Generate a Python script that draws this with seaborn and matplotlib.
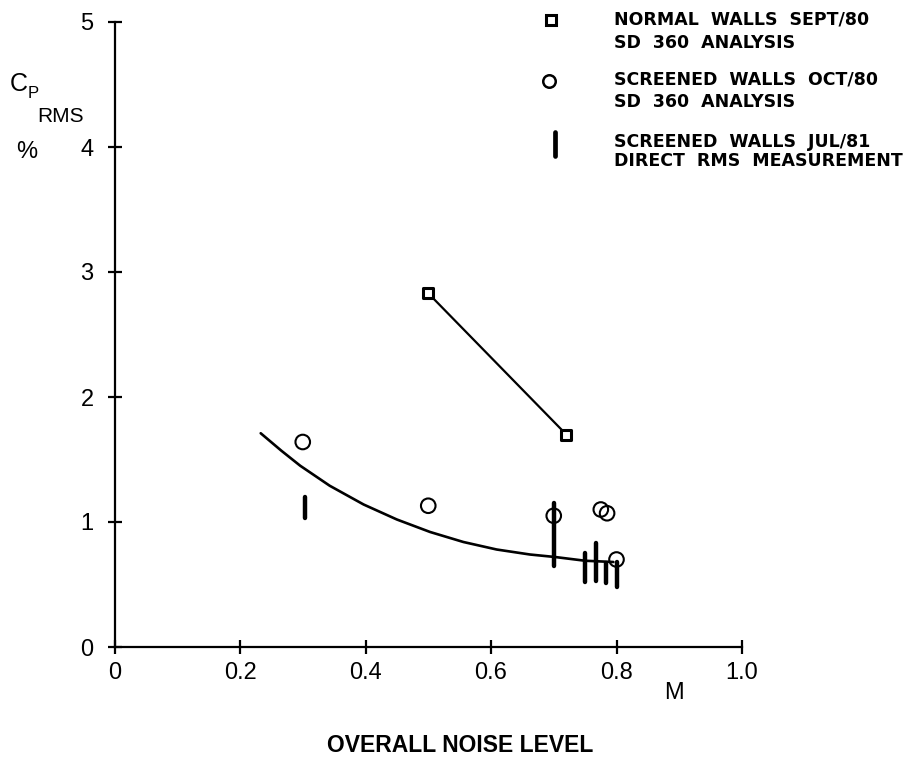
import matplotlib
matplotlib.use('Agg')
import matplotlib.pyplot as plt
import seaborn as sns
import pandas as pd
from matplotlib.lines import Line2D

# ---------------- data ----------------
normal_m = [0.50, 0.72]
normal_cp = [2.83, 1.70]

screened_m = [0.30, 0.50, 0.70, 0.775, 0.785, 0.80]
screened_cp = [1.64, 1.13, 1.05, 1.10, 1.07, 0.70]

direct_m = [0.303, 0.70, 0.75, 0.767, 0.783, 0.80]
direct_lo = [1.03, 0.65, 0.52, 0.53, 0.51, 0.48]
direct_hi = [1.20, 1.15, 0.75, 0.83, 0.67, 0.68]

fit_m = [0.233, 0.266, 0.296, 0.343, 0.397, 0.450, 0.503, 0.556, 0.609,
         0.662, 0.702, 0.750, 0.795]
fit_cp = [1.71, 1.57, 1.45, 1.29, 1.14, 1.02, 0.92, 0.84, 0.78,
          0.74, 0.72, 0.69, 0.68]

x_ticks = [0, 0.2, 0.4, 0.6, 0.8, 1.0]
x_ticklabels = ['0', '0.2', '0.4', '0.6', '0.8', '1.0']
y_ticks = [0, 1, 2, 3, 4, 5]
y_ticklabels = ['0', '1', '2', '3', '4', '5']

legend_lines = [
    ['NORMAL  WALLS  SEPT/80', 'SD  360  ANALYSIS'],
    ['SCREENED  WALLS  OCT/80', 'SD  360  ANALYSIS'],
    ['SCREENED  WALLS  JUL/81', 'DIRECT  RMS  MEASUREMENT'],
]

# ---------------- styling ----------------
sns.set_theme(style='ticks')
plt.rcParams['font.family'] = ['Liberation Sans', 'DejaVu Sans']
plt.rcParams['text.color'] = 'black'
plt.rcParams['axes.labelcolor'] = 'black'

W, H = 913, 763
fig = plt.figure(figsize=(W / 100, H / 100), dpi=100)
ax = fig.add_axes([114.5 / W, 1 - 647 / H, 627.5 / W, 625 / H])

fit_df = pd.DataFrame({'M': fit_m, 'CP': fit_cp})
normal_df = pd.DataFrame({'M': normal_m, 'CP': normal_cp})
screened_df = pd.DataFrame({'M': screened_m, 'CP': screened_cp})

sns.lineplot(data=fit_df, x='M', y='CP', sort=False, color='black', lw=1.9, ax=ax)
sns.lineplot(data=normal_df, x='M', y='CP', sort=False, color='black', lw=1.6, ax=ax)
sns.scatterplot(data=normal_df, x='M', y='CP', marker='s', s=60,
                facecolor='white', edgecolor='black', linewidth=2.2, ax=ax, zorder=5)
sns.scatterplot(data=screened_df, x='M', y='CP', marker='o', s=110,
                facecolor='none', edgecolor='black', linewidth=1.5, ax=ax, zorder=5)
ax.vlines(direct_m, direct_lo, direct_hi, color='black', lw=3.2,
          capstyle='round', zorder=6)

ax.set_xlim(0, 1.0)
ax.set_ylim(0, 5)
ax.set_xticks(x_ticks)
ax.set_xticklabels(x_ticklabels)
ax.set_yticks(y_ticks)
ax.set_yticklabels(y_ticklabels)
ax.set_xlabel('')
ax.set_ylabel('')
for s in ['top', 'right']:
    ax.spines[s].set_visible(False)
for s in ['left', 'bottom']:
    ax.spines[s].set_linewidth(1.6)
    ax.spines[s].set_color('black')
ax.tick_params(axis='both', direction='inout', length=10, width=1.6,
               colors='black', labelsize=17)
ax.tick_params(axis='x', pad=6)
ax.tick_params(axis='y', pad=10)

# ---------------- axis labels ----------------
def px(x, y):
    return x / W, 1 - y / H

fig.text(*px(19, 84), 'C', fontsize=18, ha='center', va='center')
fig.text(*px(33, 94), 'P', fontsize=12, ha='center', va='center')
fig.text(*px(61, 116), 'RMS', fontsize=15, ha='center', va='center')
fig.text(*px(27, 152), '%', fontsize=17, ha='center', va='center')
fig.text(*px(674, 693), 'M', fontsize=17, ha='center', va='center')
fig.text(*px(460, 746), 'OVERALL NOISE LEVEL', fontsize=16.5, fontweight='bold',
         ha='center', va='center')

# ---------------- legend ----------------
marker_pos = [(551, 20), (549, 81), (555, 144)]
text_rows = [(19, 43), (79, 102), (142, 161)]
fig.add_artist(Line2D([marker_pos[0][0] / W], [1 - marker_pos[0][1] / H], marker='s',
                      markersize=7.5, markerfacecolor='white', markeredgecolor='black',
                      markeredgewidth=2.2, linestyle='none', transform=fig.transFigure))
fig.add_artist(Line2D([marker_pos[1][0] / W], [1 - marker_pos[1][1] / H], marker='o',
                      markersize=9, markerfacecolor='none', markeredgecolor='black',
                      markeredgewidth=1.8, linestyle='none', transform=fig.transFigure))
fig.add_artist(Line2D([marker_pos[2][0] / W] * 2,
                      [1 - (marker_pos[2][1] - 12) / H, 1 - (marker_pos[2][1] + 12) / H],
                      color='black', lw=3.4, solid_capstyle='round',
                      transform=fig.transFigure))
for lines, rows in zip(legend_lines, text_rows):
    for t, yy in zip(lines, rows):
        fig.text(*px(614, yy), t, fontsize=12.5, fontweight='bold',
                 family=['DejaVu Sans'], ha='left', va='center')

fig.savefig('out.png', dpi=100, facecolor='white')
